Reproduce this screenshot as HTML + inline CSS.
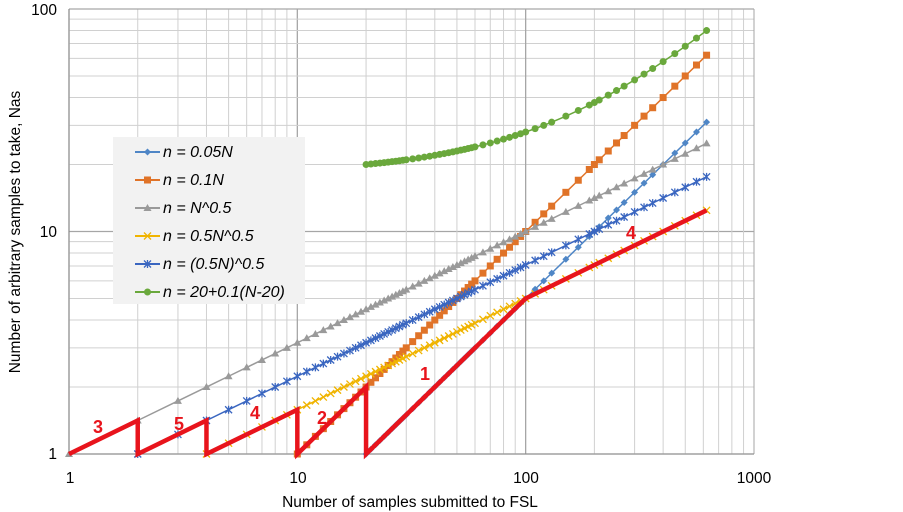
<!DOCTYPE html>
<html><head><meta charset="utf-8"><style>
body{margin:0;background:#fff;}
svg{display:block;font-family:"Liberation Sans",sans-serif;}
</style></head><body>
<svg id="s" width="903" height="512" xmlns="http://www.w3.org/2000/svg">
<g id="grid"></g>
<g id="series"></g>
<g font-size="15.5" fill="#000">
<text x="57" y="459" text-anchor="end">1</text>
<text x="57" y="237" text-anchor="end">10</text>
<text x="57" y="15" text-anchor="end">100</text>
<text x="70" y="483" text-anchor="middle">1</text>
<text x="298" y="483" text-anchor="middle">10</text>
<text x="526" y="483" text-anchor="middle">100</text>
<text x="754" y="483" text-anchor="middle">1000</text>
<text x="410" y="507" text-anchor="middle">Number of samples submitted to FSL</text>
<text transform="translate(20,232) rotate(-90)" text-anchor="middle">Number of arbitrary samples to take, Nas</text>
</g>
<g font-size="18" font-weight="bold" fill="#e8141c">
<text x="93" y="433">3</text>
<text x="174" y="430">5</text>
<text x="250" y="419">4</text>
<text x="317" y="424">2</text>
<text x="420" y="380">1</text>
<text x="626" y="239">4</text>
</g>
<g>
<rect x="113" y="137" width="192" height="167" fill="#f2f2f2"/>
<g font-size="16" font-style="italic" fill="#000">
<text x="163" y="157">n = 0.05N</text>
<text x="163" y="185">n = 0.1N</text>
<text x="163" y="213">n = N^0.5</text>
<text x="163" y="241">n = 0.5N^0.5</text>
<text x="163" y="269">n = (0.5N)^0.5</text>
<text x="163" y="297">n = 20+0.1(N-20)</text>
</g>
<g id="leg"></g>
</g>
</svg>
<script>
var NS="http://www.w3.org/2000/svg";
function X(N){return 69+228.33*Math.log10(N);}
function Y(n){return 454-222.5*Math.log10(n);}
function el(p,t,a){var e=document.createElementNS(NS,t);for(var k in a)e.setAttribute(k,a[k]);p.appendChild(e);return e;}
var g=document.getElementById('grid');
for(var d=0;d<3;d++)for(var i=1;i<10;i++){var v=Math.pow(10,d)*i;var x=X(v),y=Y(v);
 var maj=(i==1);
 el(g,'line',{x1:x,x2:x,y1:9,y2:454,stroke:maj?'#a6a6a6':'#d0d0d0','stroke-width':maj?1.3:1});
 el(g,'line',{x1:69,x2:754,y1:y,y2:y,stroke:maj?'#a6a6a6':'#d0d0d0','stroke-width':maj?1.3:1});}
el(g,'line',{x1:754,x2:754,y1:9,y2:454,stroke:'#a6a6a6'});
el(g,'line',{x1:69,x2:754,y1:9,y2:9,stroke:'#a6a6a6'});
el(g,'line',{x1:69,x2:69,y1:9,y2:454,stroke:'#888'});
el(g,'line',{x1:69,x2:754,y1:454,y2:454,stroke:'#888'});
var Ns=[];for(var n=1;n<=30;n++)Ns.push(n);for(n=32;n<=60;n+=2)Ns.push(n);for(n=65;n<=100;n+=5)Ns.push(n);
[110,120,130,150,170,190,200,210,230,250,270,300,330,360,400,450,500,560,620].forEach(function(v){Ns.push(v)});
var S=[
 {c:'#4f86c6',m:'d',f:function(N){return .05*N},a:20},
 {c:'#e07328',m:'s',f:function(N){return .1*N},a:10},
 {c:'#9a9a9a',m:'t',f:function(N){return Math.sqrt(N)},a:1},
 {c:'#f0b400',m:'x',f:function(N){return .5*Math.sqrt(N)},a:4},
 {c:'#3a66c0',m:'*',f:function(N){return Math.sqrt(.5*N)},a:2},
 {c:'#6aa83c',m:'o',f:function(N){return 20+.1*(N-20)},a:20}];
var sg=document.getElementById('series');
function mark(p,m,x,y,c){
 if(m=='d')el(p,'path',{d:'M'+x+' '+(y-3.5)+'l3.5 3.5l-3.5 3.5l-3.5 -3.5z',fill:c});
 else if(m=='s')el(p,'rect',{x:x-3.5,y:y-3.5,width:7,height:7,fill:c});
 else if(m=='t')el(p,'path',{d:'M'+x+' '+(y-4)+'l4 7h-8z',fill:c});
 else if(m=='o')el(p,'circle',{cx:x,cy:y,r:3.5,fill:c});
 else{el(p,'path',{d:'M'+(x-3.5)+' '+(y-3.5)+'l7 7M'+(x+3.5)+' '+(y-3.5)+'l-7 7'+(m=='*'?'M'+x+' '+(y-4)+'v8':''),stroke:c,'stroke-width':1.3,fill:'none'});}
}
S.forEach(function(s){var pts=Ns.filter(function(N){return N>=s.a}).map(function(N){return [X(N),Y(s.f(N))]});
 el(sg,'polyline',{points:pts.map(function(p){return p.join(',')}).join(' '),fill:'none',stroke:s.c,'stroke-width':1.5});
 pts.forEach(function(p){mark(sg,s.m,p[0],p[1],s.c)});});
var red=[[1,1],[2,Math.SQRT2],[2,1],[4,Math.SQRT2],[4,1],[10,.5*Math.sqrt(10)],[10,1],[20,2],[20,1],[100,5],[620,.5*Math.sqrt(620)]];
el(sg,'polyline',{points:red.map(function(p){return X(p[0])+','+Y(p[1])}).join(' '),fill:'none',stroke:'#e8141c','stroke-width':4.5,'stroke-linejoin':'miter'});
var lg=document.getElementById('leg');
S.forEach(function(s,i){var y=152+28*i;el(lg,'line',{x1:135,x2:160,y1:y,y2:y,stroke:s.c,'stroke-width':2});mark(lg,s.m,147.5,y,s.c);});
</script>
</body></html>
